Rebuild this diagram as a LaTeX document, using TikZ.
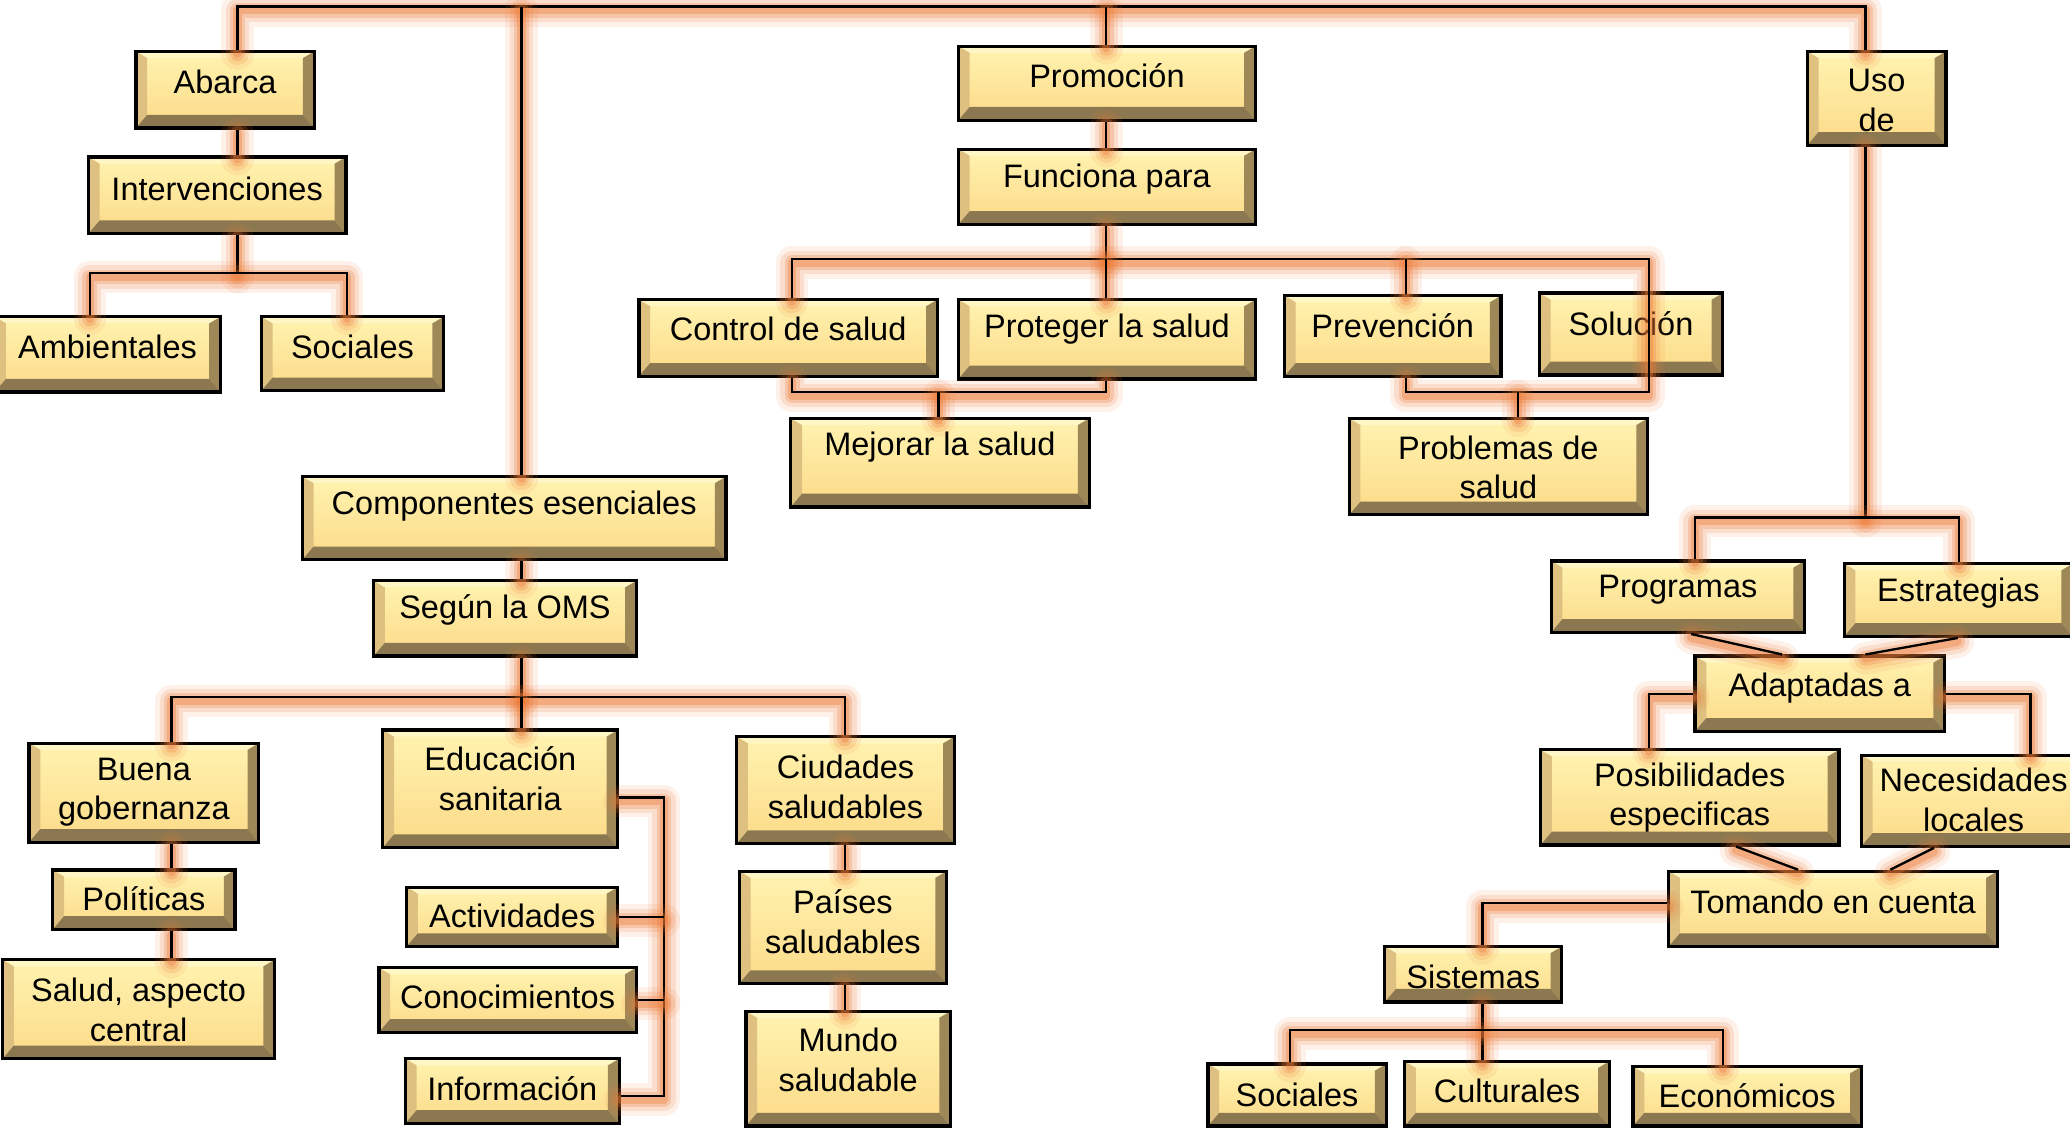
\documentclass[tikz,border=0pt]{standalone}
\usepackage{fontspec}
\setmainfont{Liberation Sans}
\usetikzlibrary{fit}
\definecolor{faceT}{HTML}{FFF3B0}
\definecolor{faceB}{HTML}{FCDA88}
\definecolor{bevT}{HTML}{FFF6C6}
\definecolor{bevL}{HTML}{DEC080}
\definecolor{bevR}{HTML}{9E8858}
\definecolor{bevB}{HTML}{8C7850}
\definecolor{glow}{HTML}{EE7A36}
\newcommand\bvs{0.085cm}
\newcommand\bvt{0.05cm}
\newcommand\bvb{0.10cm}
\tikzset{
  box/.style={draw=black, line width=0.7pt, inner sep=0pt, path picture={
    \coordinate (bxsw) at (path picture bounding box.south west);
    \coordinate (bxne) at (path picture bounding box.north east);
    \coordinate (bxnw) at (path picture bounding box.north west);
    \coordinate (bxse) at (path picture bounding box.south east);
    \shade[top color=faceT, bottom color=faceB] (bxsw) rectangle (bxne);
    \fill[bevT] (bxnw) -- (bxne) -- ([shift={(-\bvs,-\bvt)}]bxne) -- ([shift={(\bvs,-\bvt)}]bxnw) -- cycle;
    \fill[bevL] (bxsw) -- (bxnw) -- ([shift={(\bvs,-\bvt)}]bxnw) -- ([shift={(\bvs,\bvb)}]bxsw) -- cycle;
    \fill[bevR] (bxse) -- (bxne) -- ([shift={(-\bvs,-\bvt)}]bxne) -- ([shift={(-\bvs,\bvb)}]bxse) -- cycle;
    \fill[bevB] (bxsw) -- (bxse) -- ([shift={(-\bvs,\bvb)}]bxse) -- ([shift={(\bvs,\bvb)}]bxsw) -- cycle;
  }},
  txt/.style={font=\fontsize{7}{8.5}\selectfont, align=center, inner sep=0pt, text=black},
  glowline/.style={draw=glow, line cap=round, line join=round, transform canvas={yshift=-0.8pt}},
  conn/.style={draw=black, line width=0.5pt,
    preaction={glowline, line width=7pt, opacity=.10},
    preaction={glowline, line width=5pt, opacity=.16},
    preaction={glowline, line width=3.2pt, opacity=.25},
    preaction={glowline, line width=1.8pt, opacity=.35}}
}
\newcommand\bx[7]{%
  \node[box, fit={(#2,#3) (#4,#5)}] (#1) {};
  \node[txt] (#1-t) at ({(#2+#4)/2},#6) {#7};
}
\begin{document}
\begin{tikzpicture}[x=0.01cm, y=-0.01cm]
\fill[white] (0,0) rectangle (1568,854);
\useasboundingbox (0,0) rectangle (1568,854);
% boxes
\bx{abarca}{103}{39}{238}{97}{62}{Abarca}
\bx{interv}{67}{119}{262}{177}{143}{Intervenciones}
\bx{ambient}{-4}{240}{167}{297}{263}{Ambientales}
\bx{socA}{198}{240}{336}{296}{263}{Sociales}
\bx{promo}{726}{35}{951}{91}{57}{Promoción}
\bx{func}{726}{113}{951}{170}{136}{Funciona para}
\bx{control}{484}{227}{710}{285}{249}{Control de salud}
\bx{proteger}{726}{227}{951}{287}{249}{Proteger la salud}
\bx{prev}{973}{224}{1137}{285}{247}{Prevención}
\bx{sol}{1166}{222}{1305}{284}{245}{Solución}
\bx{mejorar}{599}{317}{825}{384}{339}{Mejorar la salud}
\bx{problemas}{1022}{317}{1248}{390}{354}{Problemas de\\salud}
\bx{comp}{229}{361}{550}{424}{383}{Componentes esenciales}
\bx{oms}{283}{440}{482}{497}{462}{Según la OMS}
\bx{buena}{22}{563}{196}{638}{600}{Buena\\gobernanza}
\bx{politicas}{40}{659}{178}{704}{681}{Políticas}
\bx{saludac}{2}{727}{208}{802}{765}{Salud, aspecto\\central}
\bx{educ}{290}{553}{468}{642}{590}{Educación\\sanitaria}
\bx{activ}{308}{672}{468}{717}{694}{Actividades}
\bx{conoc}{287}{733}{482}{782}{755}{Conocimientos}
\bx{info}{307}{802}{469}{851}{825}{Información}
\bx{ciudades}{558}{558}{723}{639}{596}{Ciudades\\saludables}
\bx{paises}{560}{660}{717}{745}{698}{Países\\saludables}
\bx{mundo}{565}{766}{720}{853}{803}{Mundo\\saludable}
\bx{uso}{1369}{39}{1474}{110}{76}{Uso\\de}
\bx{prog}{1175}{425}{1367}{479}{447}{Programas}
\bx{estr}{1397}{427}{1570}{482}{449}{Estrategias}
\bx{adapt}{1284}{497}{1473}{554}{521}{Adaptadas a}
\bx{posib}{1167}{568}{1393}{640}{604}{Posibilidades\\especificas}
\bx{neces}{1410}{572}{1580}{641}{606}{Necesidades\\locales}
\bx{tomando}{1264}{660}{1513}{717}{683}{Tomando en cuenta}
\bx{sistemas}{1049}{717}{1183}{759}{740}{Sistemas}
\bx{socB}{915}{806}{1050}{853}{829}{Sociales}
\bx{cult}{1064}{804}{1219}{853}{826}{Culturales}
\bx{econ}{1237}{808}{1410}{853}{830}{Económicos}
% coordinates
\coordinate (bA) at (180,5); \coordinate (bB) at (395,5);
\coordinate (bC) at (838,5); \coordinate (bD) at (1413,5);
\coordinate (i1) at (180,207); \coordinate (i2) at (68,207); \coordinate (i3) at (263,207);
\coordinate (f0) at (838,196); \coordinate (f1) at (600,196);
\coordinate (f3) at (1065,196); \coordinate (f4) at (1249,196);
\coordinate (g3) at (1065,297); \coordinate (g4) at (1249,297); \coordinate (g5) at (1150,297);
\coordinate (h1) at (600,297); \coordinate (h2) at (838,297); \coordinate (h3) at (711,297);
\coordinate (k0) at (395,528); \coordinate (k1) at (130,528); \coordinate (k2) at (640,528);
\coordinate (e0) at (503,604); \coordinate (e3) at (503,830);
\coordinate (u0) at (1413,392); \coordinate (u1) at (1284,392); \coordinate (u2) at (1484,392);
\coordinate (p1) at (1281,0); \coordinate (p2) at (1350,0);
\coordinate (p3) at (1483,0); \coordinate (p4) at (1413,0);
\coordinate (a1) at (1249,525); \coordinate (a2) at (1538,525);
\coordinate (q1) at (1315,0); \coordinate (q2) at (1362,0);
\coordinate (q3) at (1465,0); \coordinate (q4) at (1432,0);
\coordinate (t1) at (1123,684);
\coordinate (s0) at (1123,780); \coordinate (s1) at (977,780); \coordinate (s2) at (1305,780);
% connectors
\draw[conn] (abarca.north -| bA) -- (bA) -- (bD) -- (uso.north -| bD);
\draw[conn] (bB) -- (comp.north -| bB);
\draw[conn] (bC) -- (promo.north -| bC);
\draw[conn] (abarca.south -| bA) -- (interv.north -| bA);
\draw[conn] (interv.south -| i1) -- (i1);
\draw[conn] (ambient.north -| i2) -- (i2) -- (i3) -- (socA.north -| i3);
\draw[conn] (promo.south -| bC) -- (func.north -| bC);
\draw[conn] (func.south -| f0) -- (f0);
\draw[conn] (control.north -| f1) -- (f1) -- (f4) -- (g4) -- (g3) -- (prev.south -| g3);
\draw[conn] (proteger.north -| f0) -- (f0);
\draw[conn] (prev.north -| f3) -- (f3);
\draw[conn] (g5) -- (problemas.north -| g5);
\draw[conn] (control.south -| h1) -- (h1) -- (h2) -- (proteger.south -| h2);
\draw[conn] (h3) -- (mejorar.north -| h3);
\draw[conn] (comp.south -| bB) -- (oms.north -| bB);
\draw[conn] (oms.south -| k0) -- (k0);
\draw[conn] (buena.north -| k1) -- (k1) -- (k2) -- (ciudades.north -| k2);
\draw[conn] (k0) -- (educ.north -| k0);
\draw[conn] (buena.south -| k1) -- (politicas.north -| k1);
\draw[conn] (politicas.south -| k1) -- (saludac.north -| k1);
\draw[conn] (educ.east |- e0) -- (e0) -- (e3) -- (info.east |- e3);
\draw[conn] (activ.east) -- (activ.east -| e0);
\draw[conn] (conoc.east) -- (conoc.east -| e0);
\draw[conn] (ciudades.south -| k2) -- (paises.north -| k2);
\draw[conn] (paises.south -| k2) -- (mundo.north -| k2);
\draw[conn] (uso.south -| bD) -- (u0);
\draw[conn] (prog.north -| u1) -- (u1) -- (u2) -- (estr.north -| u2);
\draw[conn] (prog.south -| p1) -- (adapt.north -| p2);
\draw[conn] (estr.south -| p3) -- (adapt.north -| p4);
\draw[conn] (adapt.west) -- (adapt.west -| a1) -- (posib.north -| a1);
\draw[conn] (adapt.east) -- (adapt.east -| a2) -- (neces.north -| a2);
\draw[conn] (posib.south -| q1) -- (tomando.north -| q2);
\draw[conn] (neces.south -| q3) -- (tomando.north -| q4);
\draw[conn] (tomando.west |- t1) -- (t1) -- (sistemas.north -| t1);
\draw[conn] (sistemas.south -| s0) -- (s0) -- (cult.north -| s0);
\draw[conn] (socB.north -| s1) -- (s1) -- (s2) -- (econ.north -| s2);
\end{tikzpicture}
\end{document}
